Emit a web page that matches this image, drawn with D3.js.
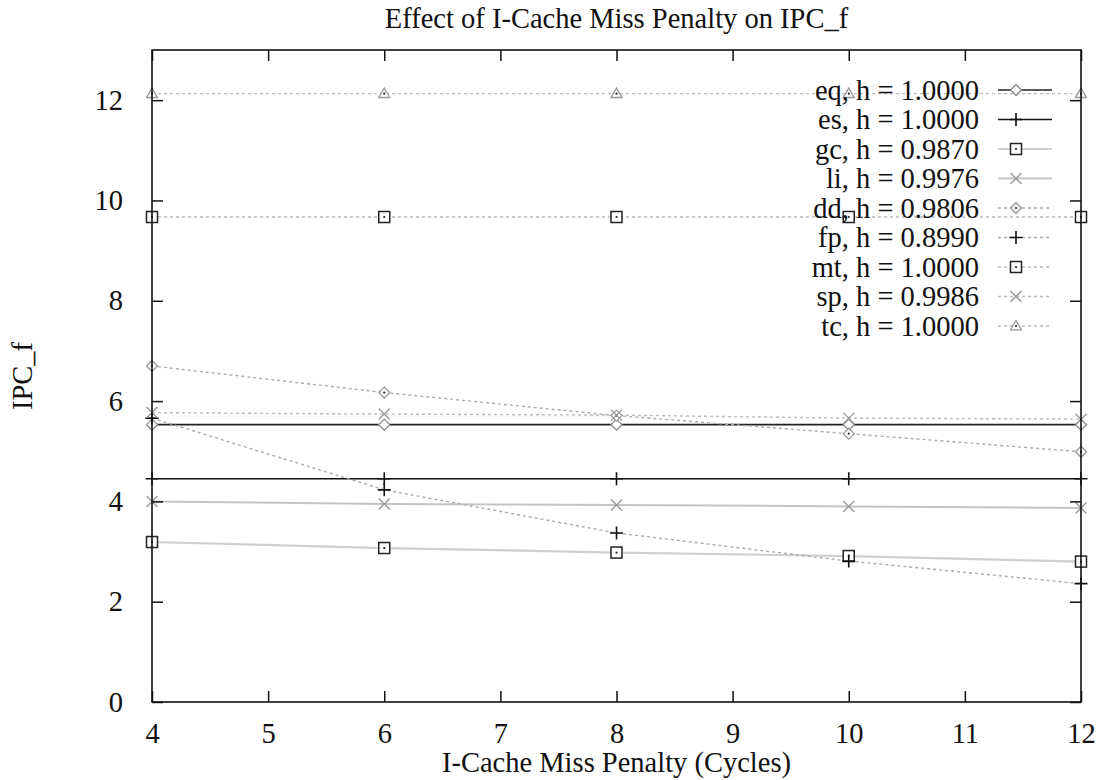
<!DOCTYPE html>
<html>
<head>
<meta charset="utf-8">
<script src="https://cdn.jsdelivr.net/npm/d3@7"></script>
<style>
  html, body { margin: 0; padding: 0; background: #fff; }
  svg { display: block; }
  text { font-family: "Liberation Serif", "Times New Roman", serif; fill: #111; }
</style>
</head>
<body>
<svg id="chart" width="1099" height="780"></svg>
<script>
// ---- data ----
const penalties = [4, 6, 8, 10, 12];
const seriesNames = ["eq", "es", "gc", "li", "dd", "fp", "mt", "sp", "tc"];
const hitRates = ["1.0000", "1.0000", "0.9870", "0.9976", "0.9806", "0.8990", "1.0000", "0.9986", "1.0000"];
const eqVals = [5.53, 5.53, 5.53, 5.53, 5.53];
const esVals = [4.45, 4.45, 4.45, 4.45, 4.45];
const gcVals = [3.19, 3.07, 2.98, 2.91, 2.80];
const liVals = [4.00, 3.95, 3.93, 3.90, 3.87];
const ddVals = [6.70, 6.17, 5.71, 5.35, 4.99];
const fpVals = [5.66, 4.23, 3.37, 2.81, 2.36];
const mtVals = [9.67, 9.67, 9.67, 9.67, 9.67];
const spVals = [5.77, 5.74, 5.72, 5.66, 5.64];
const tcVals = [12.13, 12.13, 12.13, 12.13, 12.13];
const xTicks = [4, 5, 6, 7, 8, 9, 10, 11, 12];
const yTicks = [0, 2, 4, 6, 8, 10, 12];
const titleText = "Effect of I-Cache Miss Penalty on IPC_f";
const xLabel = "I-Cache Miss Penalty (Cycles)";
const yLabel = "IPC_f";

const valuesList = [eqVals, esVals, gcVals, liVals, ddVals, fpVals, mtVals, spVals, tcVals];

// styles per series
const styles = [
  { stroke: "#222", dash: null, width: 1.6, marker: "diamond", mcolor: "#888", dot: false },
  { stroke: "#111", dash: null, width: 1.6, marker: "plus", mcolor: "#111", dot: false },
  { stroke: "#cfcfcf", dash: null, width: 2.2, marker: "square", mcolor: "#222", dot: true },
  { stroke: "#c4c4c4", dash: null, width: 2.0, marker: "cross", mcolor: "#999", dot: false },
  { stroke: "#aaa", dash: "3,3", width: 1.4, marker: "diamond", mcolor: "#999", dot: true },
  { stroke: "#aaa", dash: "3,3", width: 1.4, marker: "plus", mcolor: "#111", dot: false },
  { stroke: "#bbb", dash: "3,3", width: 1.4, marker: "square", mcolor: "#222", dot: true },
  { stroke: "#bbb", dash: "3,3", width: 1.4, marker: "cross", mcolor: "#999", dot: false },
  { stroke: "#bbb", dash: "3,3", width: 1.4, marker: "triangle", mcolor: "#999", dot: true }
];

const W = 1099, H = 780;
const margin = { left: 152, right: W - 1081, top: 50, bottom: H - 702 };
const svg = d3.select("#chart");
const x = d3.scaleLinear().domain([4, 12]).range([margin.left, W - margin.right]);
const y = d3.scaleLinear().domain([0, 13]).range([H - margin.bottom, margin.top]);
const FS = 28.5;

// series lines
const line = d3.line().x((d, i) => x(penalties[i])).y(d => y(d));
const gLines = svg.append("g");
valuesList.forEach((vals, si) => {
  const st = styles[si];
  gLines.append("path")
    .datum(vals)
    .attr("d", line)
    .attr("fill", "none")
    .attr("stroke", st.stroke)
    .attr("stroke-width", st.width)
    .attr("stroke-dasharray", st.dash);
});

function drawMarker(g, cx, cy, st) {
  const s = 5.5;
  const c = st.mcolor;
  if (st.marker === "diamond") {
    g.append("path").attr("d", `M${cx},${cy - s}L${cx + s},${cy}L${cx},${cy + s}L${cx - s},${cy}Z`)
      .attr("fill", "#fff").attr("stroke", c).attr("stroke-width", 1.3);
  } else if (st.marker === "square") {
    g.append("rect").attr("x", cx - s).attr("y", cy - s).attr("width", 2 * s).attr("height", 2 * s)
      .attr("fill", "#fff").attr("stroke", c).attr("stroke-width", 1.5);
  } else if (st.marker === "triangle") {
    g.append("path").attr("d", `M${cx},${cy - s}L${cx + s},${cy + s * 0.7}L${cx - s},${cy + s * 0.7}Z`)
      .attr("fill", "#fff").attr("stroke", c).attr("stroke-width", 1.3);
  } else if (st.marker === "plus") {
    g.append("path").attr("d", `M${cx - s - 1},${cy}L${cx + s + 1},${cy}M${cx},${cy - s - 1}L${cx},${cy + s + 1}`)
      .attr("stroke", c).attr("stroke-width", 1.6);
  } else if (st.marker === "cross") {
    g.append("path").attr("d", `M${cx - s},${cy - s}L${cx + s},${cy + s}M${cx - s},${cy + s}L${cx + s},${cy - s}`)
      .attr("stroke", c).attr("stroke-width", 1.4);
  }
  if (st.dot) {
    g.append("circle").attr("cx", cx).attr("cy", cy).attr("r", 1.1).attr("fill", "#222");
  }
}

// markers
const gMarks = svg.append("g");
valuesList.forEach((vals, si) => {
  vals.forEach((v, i) => drawMarker(gMarks, x(penalties[i]), y(v), styles[si]));
});

// frame + axes (gnuplot style: inward ticks on all sides)
const tickLen = 11;
const axB = d3.axisBottom(x).tickValues(xTicks).tickSizeInner(-tickLen).tickSizeOuter(0).tickPadding(tickLen + 20).tickFormat(d3.format("d"));
const axT = d3.axisTop(x).tickValues(xTicks).tickSizeInner(-tickLen).tickSizeOuter(0).tickFormat("");
const axL = d3.axisLeft(y).tickValues(yTicks).tickSizeInner(-tickLen).tickSizeOuter(0).tickPadding(tickLen + 18).tickFormat(d3.format("d"));
const axR = d3.axisRight(y).tickValues(yTicks).tickSizeInner(-tickLen).tickSizeOuter(0).tickFormat("");

function styleAxis(g) {
  g.select(".domain").remove();
  g.selectAll(".tick line").attr("stroke", "#111").attr("stroke-width", 1.5);
  g.selectAll(".tick text").attr("font-size", FS).attr("font-family", "Liberation Serif").attr("fill", "#111");
}
svg.append("g").attr("transform", `translate(0,${y(0)})`).call(axB).call(styleAxis)
  .selectAll(".tick text").attr("dy", "0.35em");
svg.append("g").attr("transform", `translate(0,${y(13)})`).call(axT).call(styleAxis);
svg.append("g").attr("transform", `translate(${x(4)},0)`).call(axL).call(styleAxis);
svg.append("g").attr("transform", `translate(${x(12)},0)`).call(axR).call(styleAxis);

svg.append("rect")
  .attr("x", x(4)).attr("y", y(13))
  .attr("width", x(12) - x(4)).attr("height", y(0) - y(13))
  .attr("fill", "none").attr("stroke", "#111").attr("stroke-width", 1.6);

// legend
const legX = 979, legY0 = 90, legDy = 29.5, sampleX0 = 998, sampleX1 = 1052, markX = 1016;
const gLeg = svg.append("g");
seriesNames.forEach((nm, i) => {
  const ly = legY0 + i * legDy;
  const st = styles[i];
  gLeg.append("text").attr("x", legX).attr("y", ly).attr("dy", "0.34em")
    .attr("text-anchor", "end").attr("font-size", FS)
    .text(`${nm}, h = ${hitRates[i]}`);
  gLeg.append("line").attr("x1", sampleX0).attr("x2", sampleX1).attr("y1", ly).attr("y2", ly)
    .attr("stroke", st.stroke).attr("stroke-width", st.width).attr("stroke-dasharray", st.dash);
  drawMarker(gLeg, markX, ly, st);
});

// titles
svg.append("text").attr("x", (x(4) + x(12)) / 2).attr("y", 28)
  .attr("text-anchor", "middle").attr("font-size", FS).text(titleText);
svg.append("text").attr("x", (x(4) + x(12)) / 2).attr("y", 772)
  .attr("text-anchor", "middle").attr("font-size", FS).text(xLabel);
svg.append("text").attr("transform", `translate(32,${(y(0) + y(13)) / 2}) rotate(-90)`)
  .attr("text-anchor", "middle").attr("font-size", FS).text(yLabel);
</script>
</body>
</html>
